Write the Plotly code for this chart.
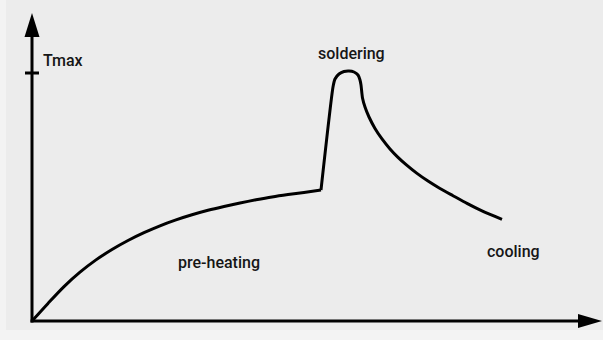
import plotly.graph_objects as go

# Reflow soldering temperature profile (time in s, temperature in degC)
time_preheat = [0, 16, 32, 48, 64, 80, 96, 112, 128, 144, 160, 176, 192, 208, 224, 240, 256, 272, 289]
temp_preheat = [0, 17.6, 34.4, 48.8, 61.1, 71.5, 80.5, 88.3, 95.2, 101.1, 106.2, 110.7, 114.5,
                118.0, 121.2, 124.1, 126.5, 128.6, 131]

time_reflow = [289, 301, 303, 307, 312, 317, 322, 326, 328, 329, 330.5, 333, 337, 343, 350, 358,
               366, 375, 385, 396, 408, 421, 435, 450, 470]
temp_reflow = [131, 234, 242, 247, 249.5, 250, 249, 246, 241, 236, 223, 214, 204, 192.6, 182.1,
               172.1, 163.7, 155.6, 147.6, 139.9, 132.5, 125.3, 117.6, 110.1, 101.7]

t_max = 248
x_end = 570
y_end = 308

labels = ["Tmax", "soldering", "pre-heating", "cooling"]
label_x = [9, 319, 187, 481]
label_y = [261, 268, 59, 70]
label_anchor = ["left", "center", "center", "center"]

INK = "#000000"
TEXT = "#161616"
FONT = dict(family="Roboto, Liberation Sans, Arial, sans-serif", size=16, color=TEXT, weight=500)

fig = go.Figure()

fig.add_trace(go.Scatter(x=time_preheat, y=temp_preheat, mode="lines",
                         line=dict(color=INK, width=3, shape="spline", smoothing=0.8),
                         hoverinfo="skip"))
fig.add_trace(go.Scatter(x=time_reflow, y=temp_reflow, mode="lines",
                         line=dict(color=INK, width=3, shape="spline", smoothing=0.6),
                         hoverinfo="skip"))

shapes = []
# Axes with arrowheads
shapes.append(dict(type="line", x0=-1.5, y0=0, x1=x_end - 24, y1=0, line=dict(color=INK, width=3)))
shapes.append(dict(type="line", x0=0, y0=-1.5, x1=0, y1=y_end - 24, line=dict(color=INK, width=3)))
shapes.append(dict(type="path",
                   path=f"M {x_end - 24},-7 L {x_end},0 L {x_end - 24},7 Z",
                   fillcolor=INK, line=dict(color=INK, width=0)))
shapes.append(dict(type="path",
                   path=f"M -7.5,{y_end - 24} L 0,{y_end} L 7.5,{y_end - 24} Z",
                   fillcolor=INK, line=dict(color=INK, width=0)))
# Tmax tick
shapes.append(dict(type="line", x0=-7, y0=t_max, x1=7, y1=t_max, line=dict(color=INK, width=3)))

annotations = [
    dict(x=x, y=y, text=t, showarrow=False, xanchor=a, yanchor="middle", font=FONT)
    for t, x, y, a in zip(labels, label_x, label_y, label_anchor)
]

fig.update_layout(
    width=603, height=340,
    margin=dict(l=6, r=0, t=0, b=10),
    paper_bgcolor="#f3f3f3",
    plot_bgcolor="#ececec",
    showlegend=False,
    shapes=shapes,
    annotations=annotations,
    xaxis=dict(range=[-26, 571], visible=False, fixedrange=True),
    yaxis=dict(range=[-9, 321], visible=False, fixedrange=True),
)

fig.write_html("out.html")
